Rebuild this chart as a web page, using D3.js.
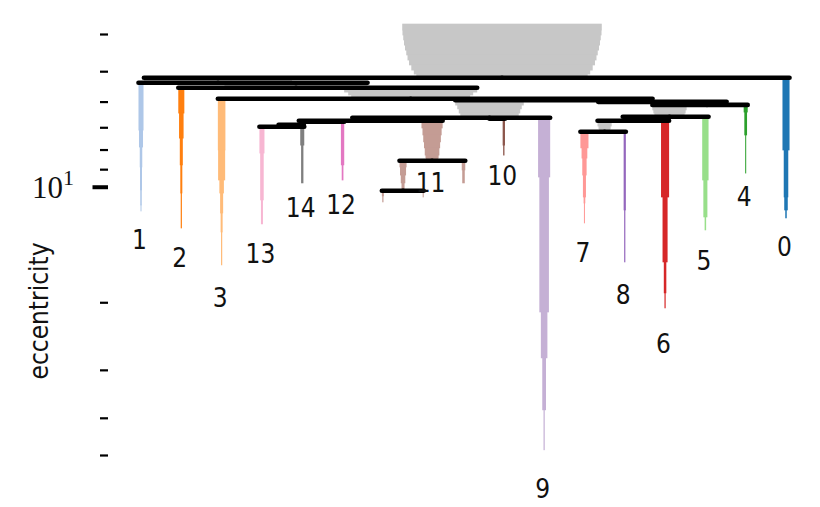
<!DOCTYPE html>
<html>
<head>
<meta charset="utf-8">
<style>
  body { margin: 0; background: #fff; }
  .lbl { font-family: "Liberation Sans Narrow", "DejaVu Sans Condensed", sans-serif; font-size: 26px; fill: #111; }
  .ylab { font-family: "Liberation Sans Narrow", "DejaVu Sans Condensed", sans-serif; font-size: 26px; fill: #111; }
  .tlab { font-family: "Liberation Serif", serif; fill: #111; }
</style>
</head>
<body>
<script src="https://cdn.jsdelivr.net/npm/d3@7"></script>
<script>

// condensed tree of branches, nodes listed parents first
// x is in leaf units (leaves sit at 0..16), sizes are [eccentricity, points] steps
var nodeParent  = [-1, 0, 1, 2, 3, 4, 4, 6, 7, 8, 5, 10, 11,
                   10, 13, 13, 14, 14,
                   1, 2, 3, 12, 12, 11, 5, 5, 9, 9, 8, 7, 6, 0];
var nodeCluster = [-1, -1, -1, -1, -1, -1, -1, -1, -1, -1, -1, -1, -1,
                   11, 11, 11, 11, 11,
                   1, 2, 3, 13, 14, 12, 10, 9, 7, 8, 6, 5, 4, 0];
var nodeLabel   = ["", "", "", "", "", "", "", "", "", "", "", "", "",
                   "11", "", "", "", "",
                   "1", "2", "3", "13", "14", "12", "10", "9", "7", "8", "6", "5", "4", "0"];
var nodeX       = [8.955, 1.91, 3.845, 6.69, 11.34, 8.645, 14.04, 13.11, 12.25, 11.5, 5.63, 4.04, 3.5,
                   7.22, 6.5, 8, 6, 7,
                   0, 1, 2, 3, 4, 5, 9, 10, 11, 12, 13, 14, 15, 16];
var nodeDeath   = [5.20, 5.36, 5.52, 5.90, 5.95, 6.59, 6.11, 6.57, 6.73, 7.19, 6.73, 6.77, 6.98,
                   8.56, 10.24, 9.76, 10.94, 10.62,
                   11.55, 12.79, 15.96, 12.48, 9.76, 9.59, 8.26, 48.4, 12.41, 15.68, 20.66, 12.94, 9.20, 12.04];
var nodeSizes   = [
  [[3.76, 1980], [3.90, 1975], [4.02, 1960], [4.14, 1945], [4.27, 1925], [4.40, 1900], [4.53, 1875],
   [4.67, 1845], [4.81, 1800], [4.96, 1750], [5.08, 1700], [5.17, 1660]],
  [[5.20, 1470]],
  [[5.36, 1420]],
  [[5.52, 1320], [5.66, 1240], [5.76, 1180]],
  [[5.90, 1080]],
  [[5.95, 680], [6.12, 640], [6.26, 610], [6.42, 580], [6.53, 550]],
  [[6.01, 390]],
  [[6.12, 340], [6.30, 320], [6.42, 300]],
  [[6.57, 240]],
  [[6.73, 140], [6.94, 120], [7.06, 110]],
  [[6.61, 310]],
  [[6.73, 100]],
  [[6.90, 70]],
  [[6.73, 210], [7.02, 190], [7.32, 175], [7.63, 160], [7.91, 145], [8.26, 130], [8.41, 120]],
  [[8.56, 70], [8.87, 60], [9.31, 45], [9.76, 30]],
  [[8.56, 35], [9.03, 25]],
  [[10.24, 20], [10.55, 12]],
  [[10.24, 10]],
  [[5.36, 50], [7.11, 40], [7.87, 25], [8.87, 20], [10.18, 15], [11.14, 10]],
  [[5.52, 60], [6.42, 45], [7.46, 30], [8.76, 20], [10.37, 12]],
  [[5.90, 75], [8.01, 70], [9.59, 45], [10.37, 30], [11.69, 20], [13.10, 12]],
  [[6.98, 50], [8.16, 35], [10.81, 20]],
  [[6.98, 40], [7.78, 23]],
  [[6.77, 33], [8.76, 17]],
  [[6.65, 23], [7.78, 13]],
  [[6.61, 120], [9.42, 95], [21.17, 65], [27.88, 37], [38.08, 12]],
  [[7.19, 80], [7.91, 57], [8.41, 43], [9.31, 30], [10.62, 17], [11.01, 10]],
  [[7.19, 22], [11.48, 12]],
  [[6.73, 80], [10.62, 50], [15.68, 25], [18.88, 12]],
  [[6.57, 63], [9.59, 40], [11.97, 15]],
  [[6.12, 40], [6.38, 27], [7.32, 10]],
  [[5.20, 70], [8.01, 45], [10.62, 35], [11.48, 15]]
];
var tickValues = [4, 5, 6, 7, 8, 9, 10, 20, 30, 40, 50];

var tab20 = ["#1f77b4", "#aec7e8", "#ff7f0e", "#ffbb78", "#2ca02c", "#98df8a", "#d62728", "#ff9896",
             "#9467bd", "#c5b0d5", "#8c564b", "#c49c94", "#e377c2", "#f7b6d2", "#7f7f7f", "#c7c7c7"];

var width = 820, height = 507;
var pointsPerLeaf = 400;

var svg = d3.select("body").append("svg")
    .attr("width", width)
    .attr("height", height);

var x = d3.scaleLinear().domain([0, 16]).range([141, 786]);
var y = d3.scaleLog().domain([4, 50]).range([34, 455]);

function half(n) { return (x(n / pointsPerLeaf) - x(0)) / 2; }
function birth(i) { return nodeSizes[i][0][0]; }
function colour(i) { return nodeCluster[i] < 0 ? tab20[15] : tab20[nodeCluster[i]]; }

// icicles
var rects = [];
nodeSizes.forEach(function(steps, i) {
  steps.forEach(function(s, k) {
    var end = k + 1 < steps.length ? steps[k + 1][0] : nodeDeath[i];
    rects.push({node: i, top: s[0], bottom: end, size: s[1]});
  });
});

svg.append("g")
  .selectAll("rect")
  .data(rects)
  .enter().append("rect")
    .attr("x", function(d) { return x(nodeX[d.node]) - half(d.size); })
    .attr("y", function(d) { return y(d.top); })
    .attr("width", function(d) { return 2 * half(d.size); })
    .attr("height", function(d) { return y(d.bottom) - y(d.top) + 0.6; })
    .attr("fill", function(d) { return colour(d.node); });

// split lines: parent centre to outer edge of child, at child's birth
var links = nodeParent
  .map(function(p, i) { return {node: i, parent: p}; })
  .filter(function(d) { return d.parent >= 0; });

svg.append("g")
  .selectAll("line")
  .data(links)
  .enter().append("line")
    .attr("x1", function(d) { return x(nodeX[d.parent]); })
    .attr("x2", function(d) {
      var s = Math.sign(nodeX[d.node] - nodeX[d.parent]);
      return x(nodeX[d.node]) + s * half(nodeSizes[d.node][0][1]);
    })
    .attr("y1", function(d) { return y(birth(d.node)); })
    .attr("y2", function(d) { return y(birth(d.node)); })
    .attr("stroke", "#000")
    .attr("stroke-width", 4.6)
    .attr("stroke-linecap", "round");

// cluster labels under the icicle ends
var labelled = d3.range(nodeLabel.length).filter(function(i) { return nodeLabel[i] !== ""; });
svg.append("g")
  .selectAll("text")
  .data(labelled)
  .enter().append("text")
    .attr("class", "lbl")
    .attr("text-anchor", "middle")
    .attr("x", function(i) { return x(nodeX[i]) - 1.5; })
    .attr("y", function(i) {
      var yd = y(nodeDeath[i]);
      return yd + 30 + 20 * (1 - Math.exp(-Math.max(0, yd - 155) / 110));
    })
    .text(function(i) { return nodeLabel[i]; });

// y axis, log scale, only 10^1 labelled
var ag = svg.append("g")
    .attr("transform", "translate(108,0)")
    .call(d3.axisLeft(y).tickValues(tickValues).tickFormat("").tickSizeOuter(0));
ag.select(".domain").remove();
ag.selectAll(".tick line")
    .attr("stroke", "#000")
    .attr("x2", function(d) { return d === 10 ? -15.5 : -8; })
    .attr("stroke-width", function(d) { return d === 10 ? 4 : 2.2; });

var t = svg.append("text")
    .attr("class", "tlab")
    .attr("text-anchor", "end")
    .attr("x", 74)
    .attr("y", y(10) + 11)
    .style("font-size", "31px")
    .text("10");
t.append("tspan")
    .attr("dy", -13)
    .style("font-size", "22px")
    .text("1");

svg.append("text")
    .attr("class", "ylab")
    .attr("text-anchor", "middle")
    .attr("transform", "translate(48,311) rotate(-90)")
    .text("eccentricity");

</script>
</body>
</html>
